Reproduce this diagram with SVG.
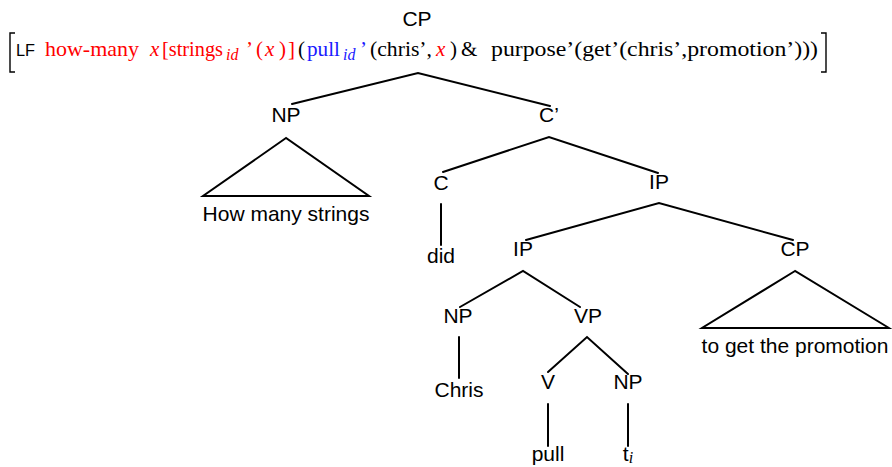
<svg xmlns="http://www.w3.org/2000/svg" width="892" height="467" viewBox="0 0 892 467">
  <style>
    .lbl { font-family: "Liberation Sans", Arial, sans-serif; font-size: 21px; fill: #000; text-anchor: middle; }
    .lf { font-family: "Liberation Serif", "Times New Roman", serif; font-size: 21px; fill: #000; }
    .tag { font-family: "Liberation Sans", Arial, sans-serif; font-size: 16px; }
    .it { font-style: italic; }
    .sub { font-style: italic; font-size: 16px; }
    .red { fill: #ff0000; }
    .blue { fill: #1a1aff; }
    .edge { stroke: #000; stroke-width: 2; fill: none; stroke-linecap: round; }
    .brk { stroke: #000; stroke-width: 1.4; fill: none; }
  </style>
  <rect width="892" height="467" fill="#fff"/>

  <!-- logical form annotation of the root -->
  <g id="logical-form">
    <path class="brk" d="M15 33 H10 V72 H15"/>
    <path class="brk" d="M821 33 H826 V72 H821"/>
    <text class="lf" y="56"><tspan class="tag" x="16" textLength="19" lengthAdjust="spacingAndGlyphs">LF</tspan><tspan class="red" x="45" textLength="94" lengthAdjust="spacingAndGlyphs">how-many</tspan><tspan class="red it" x="150">x</tspan><tspan class="red" x="162" textLength="61" lengthAdjust="spacingAndGlyphs">[strings</tspan><tspan class="red sub" x="226" y="60">id</tspan><tspan class="red" x="246" y="56">’</tspan><tspan class="red" x="256">(</tspan><tspan class="red it" x="265">x</tspan><tspan class="red" x="279">)</tspan><tspan class="red" x="288">]</tspan><tspan x="298">(</tspan><tspan class="blue" x="307" textLength="33" lengthAdjust="spacingAndGlyphs">pull</tspan><tspan class="blue sub" x="343" y="60">id</tspan><tspan class="blue" x="360" y="56">’</tspan><tspan x="370" textLength="62" lengthAdjust="spacingAndGlyphs">(chris’,</tspan><tspan class="red it" x="436">x</tspan><tspan x="450">)</tspan><tspan x="461">&amp;</tspan><tspan x="491" textLength="327" lengthAdjust="spacingAndGlyphs">purpose’(get’(chris’,promotion’)))</tspan></text>
  </g>

  <!-- tree edges -->
  <g id="edges">
    <path class="edge" d="M292 104 L418 73 L550 106"/>
    <path class="edge" d="M286 138 L203 196 H369 Z"/>
    <path class="edge" d="M443 172 L549 137 L658 173"/>
    <path class="edge" d="M441 204 V245"/>
    <path class="edge" d="M526 240 L659 203 L793 240"/>
    <path class="edge" d="M795 271 L702 328 H889 Z"/>
    <path class="edge" d="M460 307 L523 271 L580 307"/>
    <path class="edge" d="M459 337 V378"/>
    <path class="edge" d="M548 372 L587 337 L628 374"/>
    <path class="edge" d="M548 404 V446"/>
    <path class="edge" d="M628 404 V446"/>
  </g>

  <!-- tree nodes -->
  <g id="n-cp-root"><text class="lbl" x="417" y="26">CP</text></g>
  <g id="n-np-wh"><text class="lbl" x="286" y="122">NP</text></g>
  <g id="n-np-wh-yield"><text class="lbl" x="286" y="221">How many strings</text></g>
  <g id="n-cbar"><text class="lbl" x="549" y="122">C’</text></g>
  <g id="n-c"><text class="lbl" x="441" y="190">C</text></g>
  <g id="n-did"><text class="lbl" x="441" y="263">did</text></g>
  <g id="n-ip-top"><text class="lbl" x="659" y="189">IP</text></g>
  <g id="n-ip-low"><text class="lbl" x="523" y="256">IP</text></g>
  <g id="n-cp-purpose"><text class="lbl" x="795" y="256">CP</text></g>
  <g id="n-cp-purpose-yield"><text class="lbl" x="795" y="353">to get the promotion</text></g>
  <g id="n-np-subj"><text class="lbl" x="458" y="323">NP</text></g>
  <g id="n-chris"><text class="lbl" x="459" y="397">Chris</text></g>
  <g id="n-vp"><text class="lbl" x="588" y="323">VP</text></g>
  <g id="n-v"><text class="lbl" x="548" y="389">V</text></g>
  <g id="n-np-obj"><text class="lbl" x="628" y="389">NP</text></g>
  <g id="n-pull"><text class="lbl" x="548" y="461">pull</text></g>
  <g id="n-trace"><text class="lbl" x="628" y="461">t<tspan class="sub" style="font-family: 'Liberation Serif', serif" dy="2">i</tspan></text></g>
</svg>
